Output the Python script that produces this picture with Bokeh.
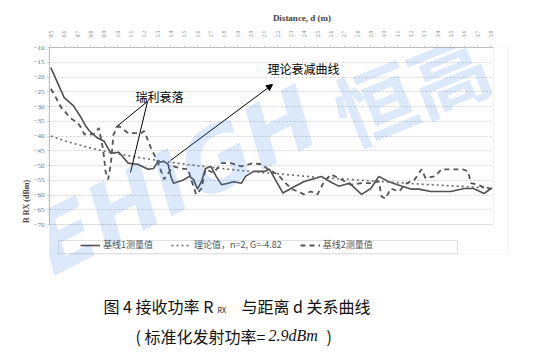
from bokeh.plotting import figure
from bokeh.models import (FixedTicker, Label, Arrow, NormalHead, BoxAnnotation,
                          Legend, LegendItem, Range1d)
from bokeh.embed import file_html
from bokeh.resources import INLINE

# ---------------- data ----------------
x_ticks = [0.5, 0.6, 0.7, 0.8, 0.9, 1.0, 1.1, 1.2, 1.3, 1.4, 1.5, 1.6, 1.7, 1.8, 1.9,
           2.0, 2.1, 2.2, 2.3, 2.4, 2.5, 2.6, 2.7, 2.8, 2.9, 3.0, 3.1, 3.2, 3.3, 3.4,
           3.5, 3.6, 3.7, 3.8]
x_tick_labels = ["0.5", "0.6", "0.7", "0.8", "0.9", "1.0", "1.1", "1.2", "1.3", "1.4",
                 "1.5", "1.6", "1.7", "1.8", "1.9", "2.0", "2.1", "2.2", "2.3", "2.4",
                 "2.5", "2.6", "2.7", "2.8", "2.9", "3.0", "3.1", "3.2", "3.3", "3.4",
                 "3.5", "3.6", "3.7", "3.8"]
y_ticks = [-10, -15, -20, -25, -30, -35, -40, -45, -50, -55, -60, -65, -70]

# baseline 1 measured (solid)
s1_d = [0.50, 0.60, 0.67, 0.73, 0.76, 0.79, 0.85, 0.90, 0.95, 1.01, 1.08, 1.15, 1.23, 1.27,
        1.30, 1.35, 1.38, 1.40, 1.42, 1.49, 1.54, 1.57, 1.60, 1.63, 1.66, 1.70, 1.74, 1.78,
        1.83, 1.87, 1.93, 1.96, 2.02, 2.10, 2.14, 2.17, 2.24, 2.30, 2.40, 2.53, 2.59, 2.66,
        2.74, 2.83, 2.90, 2.96, 3.03, 3.10, 3.20, 3.26, 3.35, 3.50, 3.60, 3.67, 3.75, 3.80]
s1_v = [-16.8, -27.0, -29.8, -34.0, -36.5, -38.3, -40.7, -41.8, -45.8, -45.5, -49.2, -49.6,
        -51.3, -51.0, -49.0, -48.6, -49.6, -53.7, -56.0, -55.0, -53.7, -54.7, -58.0, -55.4,
        -51.0, -50.3, -53.7, -56.5, -56.0, -55.5, -56.0, -53.7, -52.0, -52.0, -51.3, -53.7,
        -59.3, -57.8, -55.4, -53.7, -55.4, -57.0, -56.0, -59.8, -57.8, -53.7, -55.4, -56.5,
        -58.0, -58.0, -58.8, -58.8, -57.8, -57.8, -59.5, -57.8]

# theoretical (n=2, G=-4.82)
th_d = x_ticks
th_v = [-40.0, -41.6, -42.9, -44.1, -45.1, -46.0, -46.8, -47.6, -48.3, -48.9, -49.5, -50.1,
        -50.6, -51.1, -51.6, -52.0, -52.4, -52.8, -53.2, -53.6, -54.0, -54.3, -54.6, -54.9,
        -55.2, -55.5, -55.8, -56.1, -56.4, -56.6, -56.9, -57.1, -57.4, -57.6]

# baseline 2 measured (dashed)
s2_d = [0.50, 0.52, 0.58, 0.65, 0.70, 0.73, 0.75, 0.82, 0.86, 0.89, 0.90, 0.91, 0.93, 0.95,
        0.97, 1.01, 1.08, 1.18, 1.20, 1.25, 1.30, 1.35, 1.39, 1.42, 1.48, 1.53, 1.55, 1.59,
        1.63, 1.66, 1.72, 1.78, 1.85, 1.93, 2.02, 2.08, 2.13, 2.20, 2.30, 2.40, 2.45, 2.50,
        2.55, 2.60, 2.66, 2.75, 2.83, 2.90, 2.96, 2.98, 3.01, 3.05, 3.11, 3.17, 3.23, 3.28,
        3.31, 3.38, 3.43, 3.50, 3.59, 3.63, 3.65, 3.70, 3.77, 3.81]
s2_v = [-24.0, -25.5, -30.5, -34.0, -35.5, -37.3, -39.4, -39.4, -37.3, -44.0, -47.5, -52.0,
        -54.7, -49.5, -39.4, -36.6, -39.0, -39.0, -38.3, -44.0, -48.6, -54.7, -52.0, -50.3,
        -51.0, -51.3, -54.3, -59.8, -57.8, -51.3, -52.5, -49.2, -49.2, -50.3, -49.2, -49.6,
        -51.3, -53.0, -57.8, -59.8, -58.8, -59.8, -55.4, -53.0, -54.3, -56.5, -56.0, -56.0,
        -55.4, -60.5, -61.2, -57.8, -58.8, -56.0, -54.7, -51.3, -54.3, -53.7, -51.3, -51.3,
        -51.3, -52.0, -56.0, -56.5, -57.8, -57.8]

# ---------------- layout (pixel -> data helpers for annotation placement) ----------------
W, H = 554, 355
FL, FT = 49, 47            # frame left / top in pixels
PA_W, PA_H = 444, 177      # plot-area size in pixels
XA, XB = 0.49, 3.82        # plot-area x extent
YA, YB = -70, -10          # plot-area y extent
SX = (XB - XA) / PA_W
SY = (YB - YA) / PA_H
X_END = XA + (W - FL) * SX
Y_END = YB - (H - FT) * SY


def dx(px):
    return XA + (px - FL) * SX


def dy(py):
    return YB - (py - FT) * SY


SERIF = "Liberation Serif"
CJK = "Noto Sans CJK SC"

p = figure(width=W, height=H, x_range=Range1d(XA, X_END), y_range=Range1d(Y_END, YB),
           x_axis_location="above", output_backend="svg", toolbar_location=None,
           min_border_left=FL, min_border_right=0, min_border_top=FT, min_border_bottom=0)
p.background_fill_color = "white"
p.border_fill_color = "white"
p.outline_line_color = None

# plot-area frame and legend box
p.add_layout(BoxAnnotation(left=XA, right=XB, top=YB, bottom=YA, fill_alpha=0,
                           line_color="#cfcfcf", line_width=1, level="underlay"))
p.add_layout(BoxAnnotation(left=dx(58), right=dx(457), top=dy(240), bottom=dy(253),
                           fill_alpha=0, line_color="#9a9a9a", line_width=1))
# outer chart box (edges inside drawable region)
p.add_layout(BoxAnnotation(left=dx(49), right=dx(508), top=dy(47), bottom=dy(254),
                           fill_alpha=0, line_color="#dddddd", line_width=1, level="underlay"))

# axes
xa = p.xaxis[0]
xa.bounds = (XA, XB)
xa.ticker = FixedTicker(ticks=x_ticks,
                        minor_ticks=[x_ticks[0] + 0.05 * i for i in range(67)])
xa.major_label_overrides = {t: l for t, l in zip(x_ticks, x_tick_labels)}
xa.major_label_orientation = "vertical"
xa.major_label_text_font = SERIF
xa.major_label_text_font_size = "5.5px"
xa.major_label_text_color = "#8a8a8a"
xa.major_label_standoff = 8
xa.axis_line_color = "#bdbdbd"
xa.major_tick_line_color = "#bdbdbd"
xa.minor_tick_line_color = "#cccccc"
xa.major_tick_out = 2
xa.major_tick_in = 0
xa.minor_tick_out = 1
xa.minor_tick_in = 0
xa.axis_label = "Distance, d (m)"
xa.axis_label_text_font = SERIF
xa.axis_label_text_font_style = "bold"
xa.axis_label_text_font_size = "9px"
xa.axis_label_text_color = "#444444"
xa.axis_label_standoff = 5

ya = p.yaxis[0]
ya.bounds = (YA, YB)
ya.ticker = FixedTicker(ticks=y_ticks, minor_ticks=[-70 + i for i in range(61)])
ya.major_label_text_font = SERIF
ya.major_label_text_font_size = "7px"
ya.major_label_text_color = "#777777"
ya.major_label_standoff = 3
ya.axis_line_color = "#bdbdbd"
ya.major_tick_line_color = "#bdbdbd"
ya.minor_tick_line_color = "#cccccc"
ya.major_tick_out = 2
ya.major_tick_in = 0
ya.minor_tick_out = 1
ya.minor_tick_in = 0
ya.axis_label = "R RX (dBm)"
ya.axis_label_text_font = SERIF
ya.axis_label_text_font_style = "bold"
ya.axis_label_text_font_size = "8px"
ya.axis_label_text_color = "#444444"
ya.axis_label_standoff = 0

p.xgrid.visible = False
p.ygrid.grid_line_color = "#d0d0d0"
p.ygrid.grid_line_dash = "2 2"
p.ygrid.grid_line_width = 1
p.ygrid.cross_bounds = (XA, XB)

# series
r1 = p.line(s1_d, s1_v, line_color="#505050", line_width=1.6)
r2 = p.line(th_d, th_v, line_color="#6a6a6a", line_width=1.6, line_dash="2 3")
r3 = p.line(s2_d, s2_v, line_color="#555555", line_width=1.8, line_dash="5 4")

legend = Legend(items=[LegendItem(label="基线1测量值", renderers=[r1]),
                       LegendItem(label="理论值，n=2, G=-4.82", renderers=[r2]),
                       LegendItem(label="基线2测量值", renderers=[r3])],
                orientation="horizontal", location=(28, H - 254),
                label_text_font=CJK, label_text_font_size="9px", label_text_color="#555555",
                glyph_width=20, glyph_height=10, label_height=10, label_standoff=3,
                padding=3, spacing=18, margin=0,
                border_line_alpha=0, background_fill_alpha=0)
p.add_layout(legend)

# annotations
p.add_layout(Label(x=dx(135), y=dy(96), text="瑞利衰落", text_baseline="middle",
                   text_font=CJK, text_font_size="12px", text_color="black"))
p.add_layout(Arrow(x_start=dx(147), y_start=dy(101), x_end=dx(115), y_end=dy(127),
                   end=None, line_color="black", line_width=1))
p.add_layout(Arrow(x_start=dx(147), y_start=dy(101), x_end=dx(130), y_end=dy(172),
                   end=None, line_color="black", line_width=1))
p.add_layout(Label(x=dx(267), y=dy(68), text="理论衰减曲线", text_baseline="middle",
                   text_font=CJK, text_font_size="12px", text_color="black"))
p.add_layout(Arrow(x_start=dx(170), y_start=dy(160), x_end=dx(272), y_end=dy(84),
                   end=NormalHead(size=6, fill_color="black", line_color="black"),
                   line_color="black", line_width=1))

# captions
p.add_layout(Label(x=dx(103), y=dy(305), text="图 4  接收功率 R", text_baseline="middle",
                   text_font=CJK, text_font_size="16px", text_color="#111111"))
p.add_layout(Label(x=dx(217), y=dy(309), text="RX", text_baseline="middle",
                   text_font=CJK, text_font_size="7px", text_color="#111111"))
p.add_layout(Label(x=dx(241), y=dy(305), text="与距离 d 关系曲线", text_baseline="middle",
                   text_font=CJK, text_font_size="16px", text_color="#111111"))
p.add_layout(Label(x=dx(135), y=dy(335), text="( 标准化发射功率=", text_baseline="middle",
                   text_font=CJK, text_font_size="16px", text_color="#111111"))
p.add_layout(Label(x=dx(268), y=dy(335), text="2.9dBm", text_baseline="middle",
                   text_font=SERIF, text_font_style="italic", text_font_size="16px",
                   text_color="#111111"))
p.add_layout(Label(x=dx(326), y=dy(335), text=")", text_baseline="middle",
                   text_font=CJK, text_font_size="16px", text_color="#111111"))

# watermark
p.add_layout(Label(x=dx(175), y=dy(180), text="EHIGH", text_align="center",
                   text_baseline="middle", angle=27, angle_units="deg",
                   text_font="DejaVu Sans", text_font_style="bold italic",
                   text_font_size="86px", text_color="#2f7be0", text_alpha=0.17))
p.add_layout(Label(x=dx(410), y=dy(85), text="恒高", text_align="center",
                   text_baseline="middle", angle=22, angle_units="deg",
                   text_font=CJK, text_font_style="bold",
                   text_font_size="80px", text_color="#2f7be0", text_alpha=0.17))

open("out.html", "w").write(file_html(p, INLINE))
